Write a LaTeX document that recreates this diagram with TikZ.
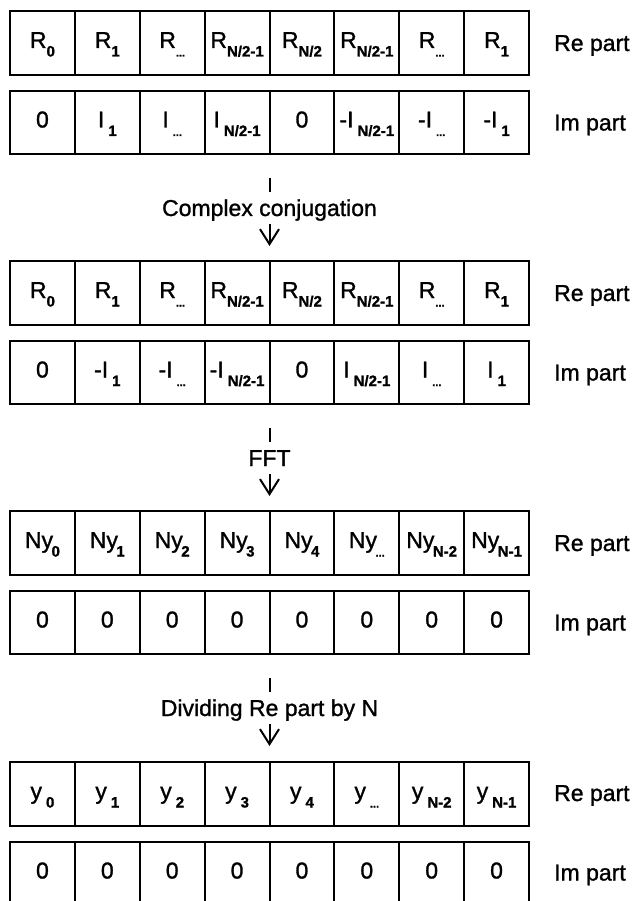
\documentclass[tikz,border=0pt]{standalone}
\usepackage{fontspec}
\setmainfont{Liberation Sans}[FakeBold=1.2]
\usetikzlibrary{arrows.meta}

% index set low and bold beside a cell symbol
\newcommand\lowidx[1]{\raisebox{-8.5pt}{\fontsize{15}{15}\selectfont\bfseries #1}}
\newcommand\dotidx{\raisebox{-8.5pt}{\fontsize{11}{11}\selectfont\bfseries ...}}
\newcommand\Iidx[1]{I\hspace{4pt}#1}
\newcommand\Nyidx[1]{Ny\kern-1.5pt#1}
\newcommand\yidx[1]{y\hspace{4pt}#1}

\tikzset{
  cell/.style={draw, line width=2pt, minimum width=64.875pt, inner sep=0pt,
    font=\fontsize{23}{23}\selectfont, text height=12pt, text depth=2pt},
  recell/.style={cell, minimum height=64pt},
  imcell/.style={cell, minimum height=63pt},
  side/.style={anchor=base west, font=\fontsize{23}{23}\selectfont, inner sep=0pt},
  steplabel/.style={anchor=base, font=\fontsize{23}{23}\selectfont,
    text height=17pt, text depth=1pt, inner ysep=7pt, inner xsep=2pt},
  conn/.style={line width=2pt},
  connarrow/.style={conn, -{Straight Barb[length=15pt,width=19pt,line width=2pt]}}
}

\begin{document}
\begin{tikzpicture}[x=1pt,y=1pt]
\useasboundingbox (0,0) rectangle (631,-901);
\clip (0,0) rectangle (631,-901);

% ---- block 1: input spectrum ----
\foreach \t [count=\i from 0] in {R\lowidx{0},R\lowidx{1},R\dotidx,R\lowidx{N/2-1},R\lowidx{N/2},R\lowidx{N/2-1},R\dotidx,R\lowidx{1}}
  \node[recell] (a-re-\i) at ({10+64.875*(\i+0.5)},-43) {\t};
\foreach \t [count=\i from 0] in {0,\Iidx{\lowidx{1}},\Iidx{\dotidx},\Iidx{\lowidx{N/2-1}},0,-\Iidx{\lowidx{N/2-1}},-\Iidx{\dotidx},-\Iidx{\lowidx{1}}}
  \node[imcell] (a-im-\i) at ({10+64.875*(\i+0.5)},-122.5) {\t};

% ---- block 2: conjugated spectrum ----
\foreach \t [count=\i from 0] in {R\lowidx{0},R\lowidx{1},R\dotidx,R\lowidx{N/2-1},R\lowidx{N/2},R\lowidx{N/2-1},R\dotidx,R\lowidx{1}}
  \node[recell] (b-re-\i) at ({10+64.875*(\i+0.5)},-293) {\t};
\foreach \t [count=\i from 0] in {0,-\Iidx{\lowidx{1}},-\Iidx{\dotidx},-\Iidx{\lowidx{N/2-1}},0,\Iidx{\lowidx{N/2-1}},\Iidx{\dotidx},\Iidx{\lowidx{1}}}
  \node[imcell] (b-im-\i) at ({10+64.875*(\i+0.5)},-372.5) {\t};

% ---- block 3: after FFT ----
\foreach \t [count=\i from 0] in {\Nyidx{\lowidx{0}},\Nyidx{\lowidx{1}},\Nyidx{\lowidx{2}},\Nyidx{\lowidx{3}},\Nyidx{\lowidx{4}},\Nyidx{\dotidx},\Nyidx{\lowidx{N-2}},\Nyidx{\lowidx{N-1}}}
  \node[recell] (c-re-\i) at ({10+64.875*(\i+0.5)},-543) {\t};
\foreach \i in {0,...,7}
  \node[imcell] (c-im-\i) at ({10+64.875*(\i+0.5)},-622.5) {0};

% ---- block 4: result ----
\foreach \t [count=\i from 0] in {\yidx{\lowidx{0}},\yidx{\lowidx{1}},\yidx{\lowidx{2}},\yidx{\lowidx{3}},\yidx{\lowidx{4}},\yidx{\dotidx},\yidx{\lowidx{N-2}},\yidx{\lowidx{N-1}}}
  \node[recell] (d-re-\i) at ({10+64.875*(\i+0.5)},-794) {\t};
\foreach \i in {0,...,7}
  \node[imcell] (d-im-\i) at ({10+64.875*(\i+0.5)},-873.5) {0};

% ---- row captions ----
\foreach \b/\y in {a/0,b/250,c/500,d/750} {
  \node[side] (\b-relab) at (554,{-51-\y}) {Re part};
  \node[side] (\b-imlab) at (554,{-130.5-\y}) {Im part};
}

% ---- processing steps between blocks ----
\foreach \s/\y/\txt in {1/0/Complex conjugation,2/250/FFT,3/500/Dividing Re part by N} {
  \coordinate (top-\s) at (269.5,{-178-\y});
  \node[steplabel] (step-\s) at (269.5,{-216-\y}) {\txt};
  \coordinate (end-\s) at (269.5,{-246-\y});
  \draw[conn] (top-\s) -- (step-\s.north);
  \draw[connarrow] (step-\s.south) -- (end-\s);
}
\end{tikzpicture}
\end{document}
